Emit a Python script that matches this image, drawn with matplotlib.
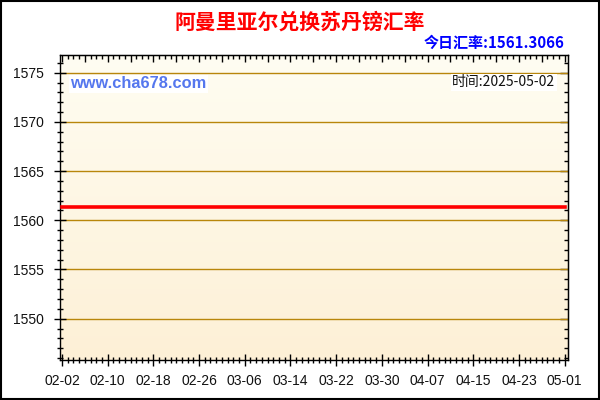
import numpy as np
import pandas as pd
import matplotlib
matplotlib.use("Agg")
import matplotlib.pyplot as plt
import matplotlib.dates as mdates
from matplotlib.ticker import MultipleLocator, NullFormatter

plt.rcParams['font.family'] = ['Liberation Sans', 'Noto Sans CJK SC', 'DejaVu Sans']

title = "阿曼里亚尔兑换苏丹镑汇率"
today_label = "今日汇率:1561.3066"
site_label = "www.cha678.com"
time_label = "时间:2025-05-02"

start_date = "2025-02-02"
end_date = "2025-05-01"
# daily rate, flat over the whole period
rates = [
    1561.3066, 1561.3066, 1561.3066, 1561.3066, 1561.3066, 1561.3066, 1561.3066, 1561.3066,
    1561.3066, 1561.3066, 1561.3066, 1561.3066, 1561.3066, 1561.3066, 1561.3066, 1561.3066,
    1561.3066, 1561.3066, 1561.3066, 1561.3066, 1561.3066, 1561.3066, 1561.3066, 1561.3066,
    1561.3066, 1561.3066, 1561.3066, 1561.3066, 1561.3066, 1561.3066, 1561.3066, 1561.3066,
    1561.3066, 1561.3066, 1561.3066, 1561.3066, 1561.3066, 1561.3066, 1561.3066, 1561.3066,
    1561.3066, 1561.3066, 1561.3066, 1561.3066, 1561.3066, 1561.3066, 1561.3066, 1561.3066,
    1561.3066, 1561.3066, 1561.3066, 1561.3066, 1561.3066, 1561.3066, 1561.3066, 1561.3066,
    1561.3066, 1561.3066, 1561.3066, 1561.3066, 1561.3066, 1561.3066, 1561.3066, 1561.3066,
    1561.3066, 1561.3066, 1561.3066, 1561.3066, 1561.3066, 1561.3066, 1561.3066, 1561.3066,
    1561.3066, 1561.3066, 1561.3066, 1561.3066, 1561.3066, 1561.3066, 1561.3066, 1561.3066,
    1561.3066, 1561.3066, 1561.3066, 1561.3066, 1561.3066, 1561.3066, 1561.3066, 1561.3066,
    1561.3066,
]
dates = pd.date_range(start_date, end_date, freq="D")[:len(rates)]
y_ticks = [1550, 1555, 1560, 1565, 1570, 1575]

fig = plt.figure(figsize=(6, 4), dpi=100)
fig.patch.set_facecolor("white")
# outer frame
fig.add_artist(plt.Rectangle((0.001, 0.002), 0.997, 0.996, transform=fig.transFigure,
                             fill=False, edgecolor="black", linewidth=1.5))

ax = fig.add_axes([0.1, 0.1, 0.8467, 0.7625])

x0 = mdates.date2num(dates[0]) - 0.35
x1 = mdates.date2num(dates[-1]) + 0.6
ax.set_xlim(x0, x1)
ax.set_ylim(1545.8, 1576.8)

# background gradient: light cream at top, warmer at bottom
grad = np.linspace(0, 1, 256).reshape(-1, 1)
top = np.array([255, 253, 242]) / 255
bot = np.array([253, 240, 214]) / 255
img = top + (bot - top) * grad[..., None] * np.ones((1, 1, 3))
ax.imshow(img, extent=[x0, x1, 1545.8, 1576.8], aspect="auto", zorder=0)

for yv in y_ticks:
    ax.axhline(yv, color="#b8860b", linewidth=1, zorder=1)

ax.plot(dates, rates, color="#ff0000", linewidth=2.6, zorder=3)

ax.set_yticks(y_ticks)
ax.yaxis.set_minor_locator(MultipleLocator(1))
label_dates = pd.date_range(start_date, end_date, freq="8D")
ax.set_xticks(mdates.date2num(label_dates))
ax.set_xticklabels([d.strftime("%m-%d") for d in label_dates])
ax.xaxis.set_minor_locator(MultipleLocator(1))

ax.tick_params(axis="both", which="both", direction="inout",
               color="black", labelsize=10, labelcolor="#111111")
ax.tick_params(axis="y", which="major", length=9, width=1, pad=7)
ax.tick_params(axis="y", which="minor", length=5, width=1)
ax.tick_params(axis="x", which="major", length=8, width=1, pad=6)
ax.tick_params(axis="x", which="minor", length=5, width=1)
for sp in ax.spines.values():
    sp.set_linewidth(1)
    sp.set_color("black")

# top and right ticks point inward only
sx = ax.secondary_xaxis("top")
sx.set_xticks(mdates.date2num(pd.date_range(start_date, end_date, freq="4D")))
sx.xaxis.set_minor_locator(MultipleLocator(1))
sx.xaxis.set_major_formatter(NullFormatter())
sx.tick_params(which="major", direction="in", length=5, width=1)
sx.tick_params(which="minor", direction="in", length=3, width=1)
sy = ax.secondary_yaxis("right")
sy.set_yticks(y_ticks)
sy.yaxis.set_minor_locator(MultipleLocator(1))
sy.yaxis.set_major_formatter(NullFormatter())
sy.tick_params(which="major", direction="in", length=6, width=1)
sy.tick_params(which="minor", direction="in", length=3, width=1)

fig.text(0.5, 0.945, title, ha="center", va="center", color="#ff0000",
         fontsize=15, fontweight="bold", family=["Noto Sans CJK SC", "DejaVu Sans"])
fig.text(0.94, 0.893, today_label, ha="right", va="center", color="#0000ff",
         fontsize=10.8, fontweight="bold", family=["Noto Sans CJK SC", "DejaVu Sans"])
ax.text(0.02, 0.905, site_label, transform=ax.transAxes, ha="left", va="center",
        color="#5577ee", fontsize=11.8, fontweight="bold",
        bbox=dict(facecolor="white", edgecolor="none", pad=1), zorder=4)
ax.text(0.975, 0.91, time_label, transform=ax.transAxes, ha="right", va="center",
        color="#111111", fontsize=10, family=["Noto Sans CJK SC", "DejaVu Sans"],
        bbox=dict(facecolor="white", edgecolor="none", pad=1), zorder=4)

fig.savefig("out.png", dpi=100)
